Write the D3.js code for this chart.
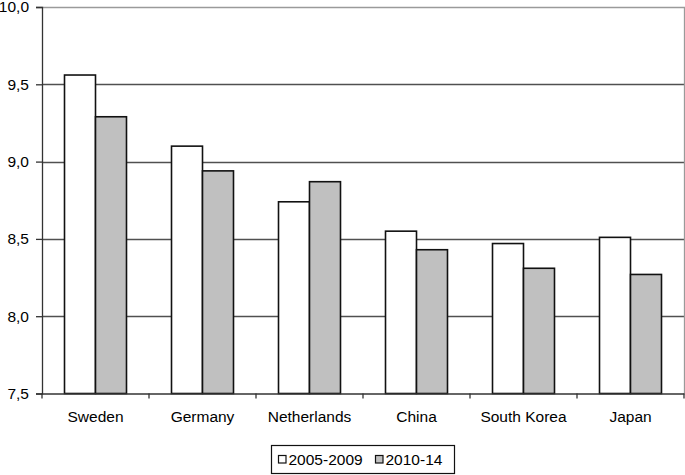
<!DOCTYPE html>
<html>
<head>
<meta charset="utf-8">
<script src="https://cdn.jsdelivr.net/npm/d3@7"></script>
<style>
  body { margin: 0; background: #fff; }
  text { font-family: "Liberation Sans", Arial, sans-serif; fill: #000; }
</style>
</head>
<body>
<div id="chart"></div>
<script>
var categories = ["Sweden", "Germany", "Netherlands", "China", "South Korea", "Japan"];
var seriesNames = ["2005-2009", "2010-14"];
var values2005 = [9.56, 9.10, 8.74, 8.55, 8.47, 8.51];
var values2010 = [9.29, 8.94, 8.87, 8.43, 8.31, 8.27];
var yTicks = [7.5, 8.0, 8.5, 9.0, 9.5, 10.0];

var width = 685, height = 475;
var plot = { left: 42, right: 684, top: 7, bottom: 393.5 };

var svg = d3
  .select("#chart")
  .append("svg")
  .attr("width", width)
  .attr("height", height);

var x = d3.scaleBand().domain(categories).range([plot.left, plot.right]).padding(0);
var xSub = d3
  .scaleBand()
  .domain(seriesNames)
  .range([0, x.bandwidth()])
  .paddingInner(0)
  .paddingOuter(0.726);
var y = d3.scaleLinear().domain([7.5, 10]).range([plot.bottom, plot.top]);
var color = d3.scaleOrdinal().domain(seriesNames).range(["#ffffff", "#c0c0c0"]);

var fmt = function (v) { return d3.format(".1f")(v).replace(".", ","); };

// gridlines
svg
  .append("g")
  .selectAll("line")
  .data(yTicks.filter(function (t) { return t > 7.5 && t < 10; }))
  .enter()
  .append("line")
  .attr("x1", plot.left)
  .attr("x2", plot.right)
  .attr("y1", function (d) { return Math.round(y(d)) + 0.5; })
  .attr("y2", function (d) { return Math.round(y(d)) + 0.5; })
  .attr("stroke", "#505050")
  .attr("stroke-width", 1.3);

// plot border top/right (light gray)
svg
  .append("path")
  .attr("d", "M" + plot.left + "," + (plot.top + 0.5) + "H" + (plot.right + 0.5) + "V" + plot.bottom)
  .attr("fill", "none")
  .attr("stroke", "#9a9a9a")
  .attr("stroke-width", 1.3);

// bars
var rows = categories.map(function (c, i) {
  return { cat: c, vals: [values2005[i], values2010[i]] };
});
svg
  .append("g")
  .selectAll("g")
  .data(rows)
  .enter()
  .append("g")
  .attr("transform", function (d) { return "translate(" + x(d.cat) + ",0)"; })
  .selectAll("rect")
  .data(function (d) {
    return seriesNames.map(function (s, j) { return { key: s, value: d.vals[j] }; });
  })
  .enter()
  .append("rect")
  .attr("x", function (d) { return xSub(d.key); })
  .attr("y", function (d) { return y(d.value); })
  .attr("width", xSub.bandwidth())
  .attr("height", function (d) { return plot.bottom - y(d.value); })
  .attr("fill", function (d) { return color(d.key); })
  .attr("stroke", "#111")
  .attr("stroke-width", 1.6);

// y axis
var yAxis = svg
  .append("g")
  .attr("transform", "translate(" + plot.left + ",0)")
  .call(d3.axisLeft(y).tickValues(yTicks).tickSize(6).tickPadding(7).tickFormat(fmt));
yAxis.select(".domain").attr("stroke", "#333").attr("stroke-width", 1.3);
yAxis.selectAll(".tick line").attr("stroke", "#333").attr("stroke-width", 1.3);
yAxis.selectAll("text").attr("font-size", "15.5px").attr("fill", "#000")
  .style("font-family", "'Liberation Sans', Arial, sans-serif");

// x axis
var xAxis = svg
  .append("g")
  .attr("transform", "translate(0," + plot.bottom + ")")
  .call(d3.axisBottom(x).tickSize(0).tickPadding(17));
xAxis.select(".domain").attr("stroke", "#333").attr("stroke-width", 1.3);
xAxis.selectAll("text").attr("font-size", "15.5px").attr("fill", "#000")
  .style("font-family", "'Liberation Sans', Arial, sans-serif");
// category boundary ticks
xAxis
  .append("g")
  .selectAll("line")
  .data(categories.concat(["__end"]))
  .enter()
  .append("line")
  .attr("x1", function (d, i) { return plot.left + i * x.step(); })
  .attr("x2", function (d, i) { return plot.left + i * x.step(); })
  .attr("y1", 0)
  .attr("y2", 5)
  .attr("stroke", "#333")
  .attr("stroke-width", 1.3);

// legend
var legend = svg.append("g");
legend
  .append("rect")
  .attr("x", 271.5)
  .attr("y", 445.5)
  .attr("width", 183)
  .attr("height", 28)
  .attr("fill", "#fff")
  .attr("stroke", "#111")
  .attr("stroke-width", 1.2);
var legendX = [278.5, 375.5];
var items = legend
  .selectAll("g.item")
  .data(seriesNames)
  .enter()
  .append("g")
  .attr("class", "item")
  .attr("transform", function (d, i) { return "translate(" + legendX[i] + ",0)"; });
items
  .append("rect")
  .attr("x", 0)
  .attr("y", 455.5)
  .attr("width", 7.5)
  .attr("height", 7.5)
  .attr("fill", function (d) { return color(d); })
  .attr("stroke", "#111")
  .attr("stroke-width", 1.2);
items
  .append("text")
  .attr("x", 10)
  .attr("y", 465)
  .attr("font-size", "15.5px")
  .text(function (d) { return d; });
</script>
</body>
</html>
